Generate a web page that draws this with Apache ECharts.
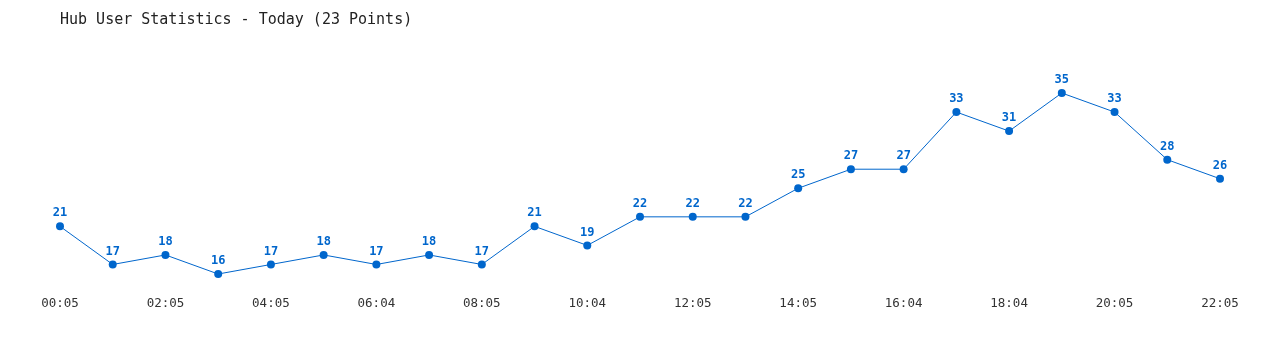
<!DOCTYPE html>
<html><head><meta charset="utf-8">
<script src="https://cdn.jsdelivr.net/npm/echarts@6/dist/echarts.min.js"></script>
<style>html,body{margin:0;padding:0;background:#fff}#c{width:1280px;height:350px}</style>
</head><body><div id="c"></div>
<script>
const titleText = "Hub User Statistics - Today (23 Points)";
const times = ["00:05","01:05","02:05","03:05","04:05","05:05","06:04","07:05","08:05","09:05","10:04","11:05","12:05","13:05","14:05","15:05","16:04","17:05","18:04","19:05","20:05","21:05","22:05"];
const users = [21,17,18,16,17,18,17,18,17,21,19,22,22,22,25,27,27,33,31,35,33,28,26];
const mono = "'DejaVu Sans Mono','Liberation Mono',monospace";
const chart = echarts.init(document.getElementById('c'));
chart.setOption({
  animation:false,
  backgroundColor:'#fff',
  title:{text:titleText,left:55,top:8,textStyle:{fontFamily:mono,fontSize:15,fontWeight:'normal',color:'#222'}},
  grid:{left:60,right:60,top:93,bottom:76},
  xAxis:{type:'category',data:times,boundaryGap:false,
    axisLine:{show:false},axisTick:{show:false},splitLine:{show:false},
    axisLabel:{interval:1,margin:23,fontFamily:mono,fontSize:12.5,color:'#333'}},
  yAxis:{type:'value',min:16,max:35,show:false,splitLine:{show:false}},
  series:[{type:'line',data:users,color:'#0066cc',
    lineStyle:{width:1,color:'#0066cc'},
    symbol:'circle',symbolSize:8,itemStyle:{color:'#0066cc'},
    label:{show:true,position:'top',distance:3,fontFamily:mono,fontSize:12,fontWeight:'bold',color:'#0066cc'}}]
});
</script></body></html>
